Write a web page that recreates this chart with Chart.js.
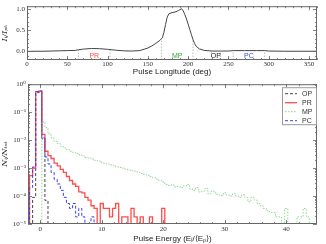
<!DOCTYPE html>
<html>
<head>
<meta charset="utf-8">
<script src="https://cdn.jsdelivr.net/npm/chart.js@4.4.1/dist/chart.umd.min.js"></script>
<style>
  html, body { margin: 0; padding: 0; background: #fff; }
  #wrap { position: relative; width: 326px; height: 244px; overflow: hidden; }
  #perfil { position: absolute; left: 0; top: 0; }
  #energia { position: absolute; left: 0; top: 78px; }
</style>
</head>
<body>
<div id="wrap">
  <canvas id="perfil" width="326" height="78"></canvas>
  <canvas id="energia" width="326" height="166"></canvas>
</div>
<script>
// Perfil medio del pulso (grados, intensidad normalizada al pico)
const longitudes = [0, 10, 20, 30, 40, 50, 60, 64, 70, 80, 90, 100, 103, 110, 120, 130, 140,
  150, 155, 160, 165, 168, 170, 172, 174, 176, 180, 185, 188, 190, 192, 194, 196, 198, 200,
  202, 204, 206, 208, 210, 214, 220, 230, 240, 250, 256, 270, 285, 295, 300, 320, 340, 360];
const intensidad = [0.0, 0.005, 0.005, 0.01, 0.015, 0.02, 0.025, 0.04, 0.055, 0.07, 0.065, 0.05, 0.045, 0.03, 0.015, 0.01, 0.02,
  0.08, 0.13, 0.19, 0.26, 0.32, 0.45, 0.63, 0.8, 0.88, 0.91, 0.93, 0.96, 0.98, 1.0, 0.95, 0.86, 0.76, 0.64,
  0.52, 0.4, 0.28, 0.19, 0.12, 0.06, 0.025, 0.01, 0.01, 0.01, 0.02, 0.02, 0.02, 0.02, 0.01, 0.005, 0.005, 0.005];

// Ventanas de fase
const ventanas = ['PR', 'MP', 'OP', 'PC'];
const ventanaInicio = [64, 167, 229, 256];
const ventanaFin = [103, 206, 240, 295];

// Ticks
const ticksLongitud = [0, 50, 100, 150, 200, 250, 300, 350];
const ticksIntensidad = [0, 0.5, 1];
const ticksEnergia = [0, 10, 20, 30, 40];
const decadas = [-5, -4, -3, -2, -1, 0];

// Histogramas de energia (fraccion por bin, bins de 0.5 desde -1.75)
const binInicio = -1.75;
const binAncho = 0.5;
const histOP = [0, 9e-5, 0.5, 0.52, 1.1e-2, 7e-5];
const histPR = [5.4e-4, 1e-3, 0.54, 0.56, 1.6e-2, 4e-3, 2.8e-3, 2.2e-3, 1.5e-3, 1.2e-3,
  9e-4, 7e-4, 5e-4, 3.6e-4, 2.7e-4, 2.2e-4, 1.4e-4, 1.3e-4, 9e-5, 7.2e-5,
  4.5e-5, 3.6e-5, 0, 5.4e-5, 3.6e-5, 3.6e-5, 1.8e-5, 3.6e-5, 5.4e-5, 0,
  1.8e-5, 1.8e-5, 0, 3.6e-5, 1.8e-5, 0, 1.8e-5, 0, 0, 1.8e-5, 0, 0, 0, 3.6e-5];
const histMP = [0, 0, 0, 0,
  4.5e-2, 2.8e-2, 1.7e-2, 1.2e-2, 9e-3, 7.5e-3, 6e-3, 5.3e-3, 4.6e-3, 4e-3,
  3.6e-3, 3.3e-3, 3e-3, 2.7e-3, 2.4e-3, 2.3e-3, 2.1e-3, 1.9e-3, 1.8e-3, 1.6e-3,
  1.5e-3, 1.4e-3, 1.3e-3, 1.25e-3, 1.1e-3, 1.05e-3, 1e-3, 9e-4, 8.5e-4, 8e-4,
  7.8e-4, 7e-4, 6.5e-4, 6e-4, 5.5e-4, 5e-4, 4.5e-4, 4e-4, 3.6e-4, 3.2e-4,
  2.6e-4, 2.4e-4, 2.5e-4, 2.1e-4, 2.2e-4, 2e-4, 2.3e-4, 2.6e-4, 1.8e-4, 1.6e-4,
  2e-4, 1.4e-4, 1.5e-4, 1.9e-4, 1.2e-4, 1.5e-4, 1.3e-4, 1.1e-4, 1.05e-4, 1.3e-4,
  1.1e-4, 1e-4, 1.2e-4, 1e-4, 9e-5, 1.1e-4, 9e-5, 6.3e-5, 9e-5, 7.2e-5,
  5.4e-5, 4.5e-5, 3.6e-5, 3e-5, 2.6e-5, 2.6e-5, 1.8e-5, 1.8e-5, 0, 3.6e-5,
  0, 0, 0, 1.8e-5, 1.8e-5, 3.6e-5, 1.8e-5];
const histPC = [2e-4, 1.1e-3, 0.55, 0.58, 1.2e-2, 2.5e-3, 1.4e-3, 7e-4, 4e-4, 2.7e-4,
  1.6e-4, 9e-5, 5.4e-5, 3.6e-5, 5.4e-5, 1.8e-5, 3.6e-5, 1.8e-5, 0, 0, 1.8e-5];

const PISO = 1e-7; // bins vacios: por debajo del eje
const colores = { OP: '#444', PR: 'rgba(255,45,45,0.85)', MP: '#8fd48f', PC: '#3d3dff' };
const fuenteTicks = { family: "'Liberation Serif', 'DejaVu Serif', serif", size: 7 };
const fuenteTitulo = { family: "'Liberation Sans', Arial, sans-serif", size: 8 };
const fuenteMath = { family: "'DejaVu Serif', serif", size: 8, style: 'italic' };

function superindice(n) {
  const mapa = { '-': '⁻', '0': '⁰', '1': '¹', '2': '²', '3': '³', '4': '⁴', '5': '⁵', '6': '⁶', '7': '⁷', '8': '⁸', '9': '⁹' };
  return String(n).split('').map(c => mapa[c]).join('');
}

function alturaPerfil(lon) {
  for (let i = 1; i < longitudes.length; i++) {
    if (lon <= longitudes[i]) {
      const t = (lon - longitudes[i - 1]) / (longitudes[i] - longitudes[i - 1]);
      return intensidad[i - 1] + t * (intensidad[i] - intensidad[i - 1]);
    }
  }
  return intensidad[intensidad.length - 1];
}

function escalones(valores) {
  const puntos = [{ x: binInicio, y: PISO }];
  valores.forEach((v, i) => puntos.push({ x: binInicio + i * binAncho, y: v > 0 ? v : PISO }));
  puntos.push({ x: binInicio + valores.length * binAncho, y: PISO });
  return puntos;
}

// Marco con ticks hacia dentro en los cuatro lados
const marco = {
  id: 'marco',
  afterDraw(chart, args, opts) {
    const { ctx, chartArea: a, scales } = chart;
    ctx.save();
    ctx.strokeStyle = '#666';
    ctx.lineWidth = 1;
    const linea = (x1, y1, x2, y2) => { ctx.beginPath(); ctx.moveTo(x1, y1); ctx.lineTo(x2, y2); ctx.stroke(); };
    const marcasX = (vals, largo) => vals.forEach(v => {
      const px = Math.round(scales.x.getPixelForValue(v)) + 0.5;
      linea(px, a.bottom, px, a.bottom - largo);
      linea(px, a.top, px, a.top + largo);
    });
    const marcasY = (vals, largo) => vals.forEach(v => {
      const py = Math.round(scales.y.getPixelForValue(v)) + 0.5;
      linea(a.left, py, a.left + largo, py);
      linea(a.right, py, a.right - largo, py);
    });
    ctx.lineWidth = 0.8;
    marcasX(opts.xMayor, 4); marcasX(opts.xMenor, 2);
    marcasY(opts.yMayor, 4); marcasY(opts.yMenor, 2);
    ctx.lineWidth = 1;
    ctx.strokeRect(a.left + 0.5, a.top + 0.5, a.right - a.left - 1, a.bottom - a.top - 1);
    ctx.restore();
  }
};

// Nombres de las ventanas bajo el perfil
const etiquetas = {
  id: 'etiquetas',
  afterDatasetsDraw(chart) {
    const { ctx, scales } = chart;
    ctx.save();
    ctx.font = "7px 'Liberation Sans', Arial, sans-serif";
    ctx.textAlign = 'center';
    ctx.textBaseline = 'middle';
    ventanas.forEach((nombre, i) => {
      ctx.fillStyle = colores[nombre] === colores.OP ? '#222' : colores[nombre];
      if (nombre === 'MP') ctx.fillStyle = '#3aa83a';
      ctx.fillText(nombre, scales.x.getPixelForValue((ventanaInicio[i] + ventanaFin[i]) / 2), scales.y.getPixelForValue(-0.1));
    });
    ctx.restore();
  }
};

// Leyenda dentro del area del grafico
const leyenda = {
  id: 'leyenda',
  afterDraw(chart) {
    const { ctx, chartArea: a } = chart;
    const w = 34, h = 37;
    const x0 = a.right - w - 1, y0 = a.top + 3;
    ctx.save();
    ctx.fillStyle = '#fff';
    ctx.fillRect(x0, y0, w, h);
    ctx.strokeStyle = '#999';
    ctx.lineWidth = 1;
    ctx.strokeRect(x0 + 0.5, y0 + 0.5, w, h);
    ctx.font = "7px 'Liberation Sans', Arial, sans-serif";
    ctx.textBaseline = 'middle';
    chart.data.datasets.forEach((ds, i) => {
      const y = y0 + 6.5 + i * 9;
      ctx.strokeStyle = ds.borderColor;
      ctx.lineWidth = ds.borderWidth;
      ctx.setLineDash(ds.borderDash || []);
      ctx.beginPath(); ctx.moveTo(x0 + 3, y); ctx.lineTo(x0 + 15, y); ctx.stroke();
      ctx.setLineDash([]);
      ctx.fillStyle = '#333';
      ctx.fillText(ds.label, x0 + 20, y);
    });
    ctx.restore();
  }
};

const bordes = ventanaInicio.concat(ventanaFin);
const lineasVentana = bordes.map(b => ({
  data: [{ x: b, y: -0.2 }, { x: b, y: alturaPerfil(b) }],
  borderColor: '#aaa', borderWidth: 0.8, borderDash: [1.5, 1.5], pointRadius: 0, order: 2
}));

new Chart(document.getElementById('perfil'), {
  type: 'line',
  data: {
    datasets: [{
      data: longitudes.map((l, i) => ({ x: l, y: intensidad[i] })),
      borderColor: '#444', borderWidth: 1, pointRadius: 0, tension: 0, order: 1
    }].concat(lineasVentana)
  },
  options: {
    responsive: false, animation: false, devicePixelRatio: 1, events: [],
    layout: { padding: { top: 2, right: 9, left: 0, bottom: 0 } },
    plugins: {
      legend: { display: false }, tooltip: { enabled: false },
      marco: {
        xMayor: ticksLongitud, xMenor: Array.from({ length: 37 }, (_, i) => i * 10),
        yMayor: ticksIntensidad, yMenor: [-0.1, 0.1, 0.2, 0.3, 0.4, 0.6, 0.7, 0.8, 0.9]
      }
    },
    scales: {
      x: {
        type: 'linear', min: 0, max: 360,
        grid: { display: false, drawTicks: false }, border: { display: false },
        afterBuildTicks: s => { s.ticks = ticksLongitud.map(v => ({ value: v })); },
        afterFit: s => { s.height = 18; },
        ticks: { font: fuenteTicks, color: '#333', padding: 0, autoSkip: false, maxRotation: 0 },
        title: { display: true, text: 'Pulse Longitude (deg)', font: fuenteTitulo, color: '#222', padding: { top: 0, bottom: 1 } }
      },
      y: {
        min: -0.2, max: 1.06,
        grid: { display: false, drawTicks: false }, border: { display: false },
        afterBuildTicks: s => { s.ticks = ticksIntensidad.map(v => ({ value: v })); },
        afterFit: s => { s.width = 27; },
        ticks: { font: fuenteTicks, color: '#333', padding: 2, callback: v => v.toFixed(1) },
        title: { display: true, text: 'Iᵢ/Iₚₖ', font: fuenteMath, color: '#222', padding: 0 }
      }
    }
  },
  plugins: [etiquetas, marco]
});

const comun = { stepped: true, pointRadius: 0, fill: false, borderWidth: 1 };
new Chart(document.getElementById('energia'), {
  type: 'line',
  data: {
    datasets: [
      Object.assign({ label: 'OP', data: escalones(histOP), borderColor: colores.OP, borderDash: [3, 2], order: 4 }, comun),
      Object.assign({ label: 'PR', data: escalones(histPR), borderColor: colores.PR, order: 3 }, comun, { borderWidth: 1.3 }),
      Object.assign({ label: 'MP', data: escalones(histMP), borderColor: colores.MP, borderDash: [1.5, 1.5], order: 2 }, comun),
      Object.assign({ label: 'PC', data: escalones(histPC), borderColor: colores.PC, borderDash: [3, 2], order: 1 }, comun)
    ]
  },
  options: {
    responsive: false, animation: false, devicePixelRatio: 1, events: [],
    layout: { padding: { top: 2, right: 9, left: 0, bottom: 0 } },
    plugins: {
      legend: { display: false }, tooltip: { enabled: false },
      marco: {
        xMayor: ticksEnergia, xMenor: Array.from({ length: 23 }, (_, i) => i * 2 - 2),
        yMayor: decadas.map(d => Math.pow(10, d)),
        yMenor: decadas.slice(0, -1).flatMap(d => [2, 3, 4, 5, 6, 7, 8, 9].map(m => m * Math.pow(10, d)))
      }
    },
    scales: {
      x: {
        type: 'linear', min: -2, max: 45,
        grid: { display: false, drawTicks: false }, border: { display: false },
        afterBuildTicks: s => { s.ticks = ticksEnergia.map(v => ({ value: v })); },
        afterFit: s => { s.height = 20; },
        ticks: { font: fuenteTicks, color: '#333', padding: 1, autoSkip: false, maxRotation: 0 },
        title: { display: true, text: 'Pulse Energy (Eᵢ/⟨Eₚ⟩)', font: fuenteTitulo, color: '#222', padding: { top: 0, bottom: 0 } }
      },
      y: {
        type: 'logarithmic', min: 1e-5, max: 1,
        grid: { display: false, drawTicks: false }, border: { display: false },
        afterBuildTicks: s => { s.ticks = decadas.map(d => ({ value: Math.pow(10, d) })); },
        afterFit: s => { s.width = 28; },
        ticks: { font: fuenteTicks, color: '#333', padding: 2, autoSkip: false, callback: v => '10' + superindice(Math.round(Math.log10(v))) },
        title: { display: true, text: 'Nᵢ/Nₜₒₜ', font: fuenteMath, color: '#222', padding: 0 }
      }
    }
  },
  plugins: [marco, leyenda]
});
</script>
</body>
</html>
